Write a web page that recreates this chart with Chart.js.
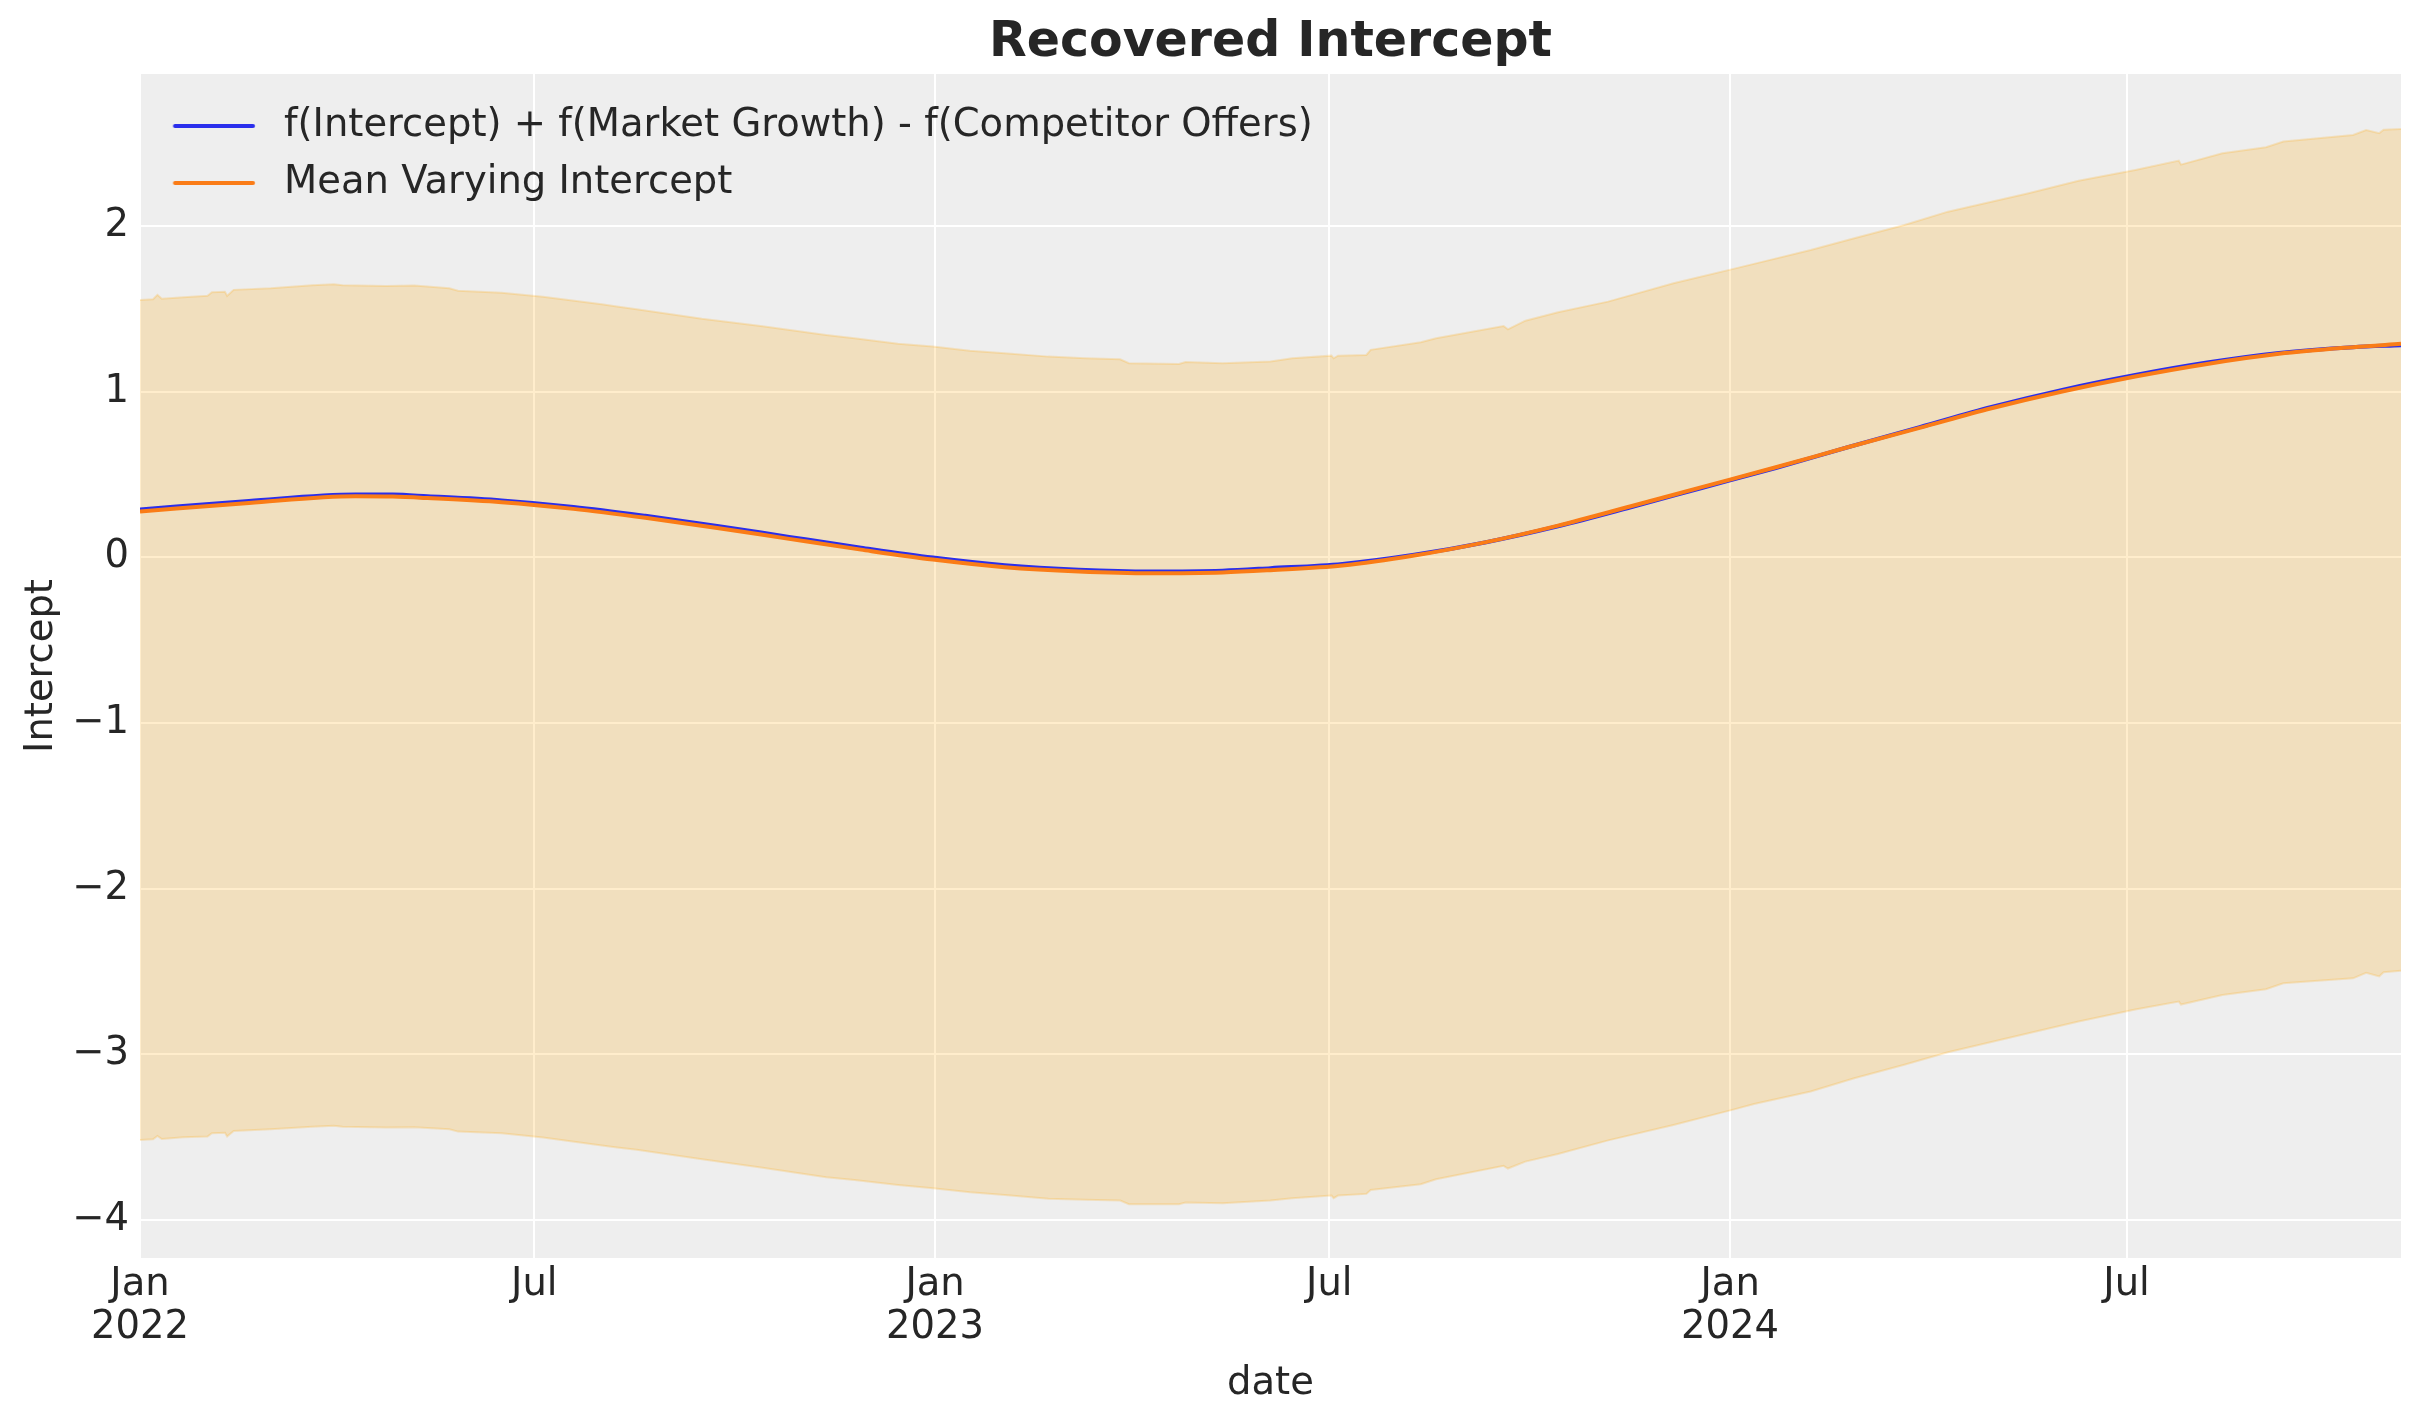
<!DOCTYPE html>
<html>
<head>
<meta charset="utf-8">
<script src="https://cdn.jsdelivr.net/npm/chart.js@4/dist/chart.umd.min.js"></script>
<style>
  html, body { margin: 0; padding: 0; background: #ffffff; }
  canvas { display: block; }
</style>
</head>
<body>
<canvas id="c" width="2423" height="1423"></canvas>
<script>
// ---------- data ----------
const bandDates = [
  '2022-01-01','2022-01-07','2022-01-09','2022-01-11','2022-01-21','2022-02-01','2022-02-03','2022-02-09','2022-02-10','2022-02-13',
  '2022-03-02','2022-03-21','2022-03-31','2022-04-04','2022-04-24','2022-05-07','2022-05-23','2022-05-27','2022-06-16','2022-07-05',
  '2022-08-01','2022-08-08','2022-08-17','2022-09-16','2022-10-13','2022-11-12','2022-11-25','2022-12-15','2022-12-31','2023-01-17',
  '2023-02-02','2023-02-22','2023-03-11','2023-03-27','2023-03-31','2023-04-23','2023-04-26','2023-05-13','2023-06-04','2023-06-14',
  '2023-07-02','2023-07-03','2023-07-05','2023-07-18','2023-07-20','2023-08-12','2023-08-19','2023-09-19','2023-09-21','2023-09-29',
  '2023-10-14','2023-11-06','2023-12-06','2024-01-02','2024-01-12','2024-02-07','2024-02-27','2024-03-21','2024-04-10','2024-05-17',
  '2024-06-09','2024-07-05','2024-07-25','2024-07-26','2024-08-14','2024-09-03','2024-09-11','2024-10-13','2024-10-19','2024-10-25',
  '2024-10-27','2024-11-04'
];
const bandUpper = [
  1.553, 1.557, 1.584, 1.560, 1.570, 1.578, 1.600, 1.602, 1.578, 1.614,
  1.624, 1.642, 1.648, 1.642, 1.638, 1.640, 1.624, 1.609, 1.597, 1.573,
  1.527, 1.513, 1.497, 1.439, 1.396, 1.342, 1.322, 1.288, 1.272, 1.247,
  1.232, 1.211, 1.201, 1.195, 1.171, 1.167, 1.179, 1.171, 1.181, 1.201,
  1.217, 1.201, 1.217, 1.221, 1.252, 1.298, 1.322, 1.396, 1.376, 1.428,
  1.479, 1.543, 1.654, 1.739, 1.771, 1.855, 1.926, 2.006, 2.086, 2.197,
  2.273, 2.338, 2.394, 2.370, 2.439, 2.475, 2.509, 2.549, 2.579, 2.560,
  2.580, 2.585
];
const bandLower = [
  -3.517, -3.513, -3.493, -3.512, -3.501, -3.497, -3.477, -3.474, -3.497, -3.463,
  -3.453, -3.437, -3.431, -3.437, -3.443, -3.441, -3.453, -3.467, -3.477, -3.503,
  -3.551, -3.563, -3.577, -3.634, -3.684, -3.742, -3.759, -3.789, -3.809, -3.833,
  -3.849, -3.873, -3.879, -3.883, -3.905, -3.905, -3.895, -3.899, -3.883, -3.869,
  -3.853, -3.869, -3.853, -3.843, -3.819, -3.785, -3.755, -3.674, -3.690, -3.648,
  -3.602, -3.520, -3.427, -3.336, -3.300, -3.225, -3.145, -3.064, -2.988, -2.873,
  -2.803, -2.730, -2.682, -2.700, -2.642, -2.608, -2.572, -2.542, -2.508, -2.530,
  -2.505, -2.496
];
const lineDates = [
  '2022-01-01','2022-02-20','2022-04-10','2022-04-27','2022-05-13','2022-06-16','2022-07-19','2022-08-21','2022-09-23','2022-10-26',
  '2022-11-28','2022-12-31','2023-02-02','2023-03-08','2023-04-10','2023-05-13','2023-06-04','2023-07-07','2023-08-09','2023-09-11',
  '2023-10-14','2023-11-16','2023-12-19','2024-01-22','2024-02-24','2024-03-28','2024-04-30','2024-06-02','2024-07-05','2024-08-07',
  '2024-09-09','2024-10-13','2024-11-04'
];
const trueIntercept = [
  0.288, 0.340, 0.379, 0.378, 0.368, 0.343, 0.304, 0.250, 0.189, 0.123,
  0.058, -0.002, -0.048, -0.075, -0.086, -0.081, -0.066, -0.040, 0.015, 0.091,
  0.187, 0.300, 0.418, 0.539, 0.664, 0.785, 0.907, 1.012, 1.100, 1.175,
  1.233, 1.268, 1.280
];
const meanIntercept = [
  0.276, 0.328, 0.368, 0.366, 0.357, 0.332, 0.292, 0.238, 0.177, 0.111,
  0.046, -0.014, -0.060, -0.086, -0.097, -0.092, -0.078, -0.050, 0.010, 0.091,
  0.191, 0.306, 0.423, 0.543, 0.664, 0.781, 0.899, 1.002, 1.091, 1.167,
  1.228, 1.268, 1.288
];
const seriesNames = ['f(Intercept) + f(Market Growth) - f(Competitor Offers)', 'Mean Varying Intercept'];
const xTickDates = ['2022-01-01','2022-07-01','2023-01-01','2023-07-01','2024-01-01','2024-07-01'];
const xTickLabels = [['Jan','2022'], 'Jul', ['Jan','2023'], 'Jul', ['Jan','2024'], 'Jul'];
const yTickValues = [-4, -3, -2, -1, 0, 1, 2];
const titleText = 'Recovered Intercept';
const xAxisTitle = 'date';
const yAxisTitle = 'Intercept';

// ---------- helpers ----------
const DAY0 = Date.UTC(2022, 0, 1);
function dayOf(s) {
  const p = s.split('-').map(Number);
  return (Date.UTC(p[0], p[1] - 1, p[2]) - DAY0) / 86400000;
}
function pts(dates, vals) { return dates.map((d, i) => ({ x: dayOf(d), y: vals[i] })); }

const FONT = 'DejaVu Sans';
const FS = 38.5;
const TXT = '#262626';
const BLUE = '#2a2eec';
const ORANGE = '#fa7c17';
const BAND = 'rgba(255,165,0,0.2)';

function legendLine(color) {
  const c = document.createElement('canvas');
  c.width = 100; c.height = 10;
  const g = c.getContext('2d');
  g.strokeStyle = color; g.lineWidth = 4; g.lineCap = 'round';
  g.beginPath(); g.moveTo(10.25, 5); g.lineTo(88.25, 5); g.stroke();
  return c;
}
const legendImgs = { 2: legendLine(BLUE), 3: legendLine(ORANGE) };

const tickMap = {};
xTickDates.forEach((d, i) => { tickMap[dayOf(d)] = xTickLabels[i]; });

const bgPlugin = {
  id: 'bg',
  beforeDraw(chart) {
    const { ctx, chartArea: a } = chart;
    ctx.save();
    ctx.fillStyle = '#ffffff';
    ctx.fillRect(0, 0, chart.width, chart.height);
    ctx.fillStyle = '#eeeeee';
    ctx.fillRect(a.left, a.top, a.right - a.left, a.bottom - a.top);
    ctx.restore();
  }
};
const legendPos = {
  id: 'legendPos',
  afterLayout(chart) {
    if (chart.legend) {
      chart.legend.left = chart.chartArea.left + 6.25;
      chart.legend.top = chart.chartArea.top + 14.25;
    }
  }
};

new Chart(document.getElementById('c'), {
  type: 'line',
  data: {
    datasets: [
      { label: 'hdi_upper', data: pts(bandDates, bandUpper), borderColor: BAND, backgroundColor: BAND,
        borderWidth: 2, pointRadius: 0, tension: 0, fill: '+1', order: 3 },
      { label: 'hdi_lower', data: pts(bandDates, bandLower), borderColor: BAND, backgroundColor: BAND,
        borderWidth: 2, pointRadius: 0, tension: 0, fill: false, order: 2 },
      { label: seriesNames[0], data: pts(lineDates, trueIntercept), borderColor: BLUE, backgroundColor: BLUE,
        borderWidth: 4, pointRadius: 0, cubicInterpolationMode: 'monotone', fill: false, order: 1 },
      { label: seriesNames[1], data: pts(lineDates, meanIntercept), borderColor: ORANGE, backgroundColor: ORANGE,
        borderWidth: 4, pointRadius: 0, cubicInterpolationMode: 'monotone', fill: false, order: 0 }
    ]
  },
  options: {
    responsive: false,
    animation: false,
    devicePixelRatio: 1,
    layout: { padding: { top: 0, right: 22, bottom: 0, left: 0 } },
    plugins: {
      title: {
        display: true, text: titleText, color: TXT, fullSize: false,
        font: { family: FONT, size: 49, weight: 'bold', lineHeight: 1.2 },
        padding: { top: 13.6, bottom: 1.6 }
      },
      legend: {
        position: 'chartArea', align: 'start',
        labels: {
          color: TXT, font: { family: FONT, size: FS }, padding: 18.5,
          usePointStyle: true, pointStyleWidth: 100,
          filter: (item) => item.datasetIndex >= 2,
          sort: (a, b) => a.datasetIndex - b.datasetIndex,
          generateLabels(chart) {
            const items = Chart.defaults.plugins.legend.labels.generateLabels(chart);
            items.forEach(it => { if (legendImgs[it.datasetIndex]) it.pointStyle = legendImgs[it.datasetIndex]; });
            return items;
          }
        }
      },
      tooltip: { enabled: false }
    },
    scales: {
      x: {
        type: 'linear',
        min: 0,
        max: dayOf(bandDates[bandDates.length - 1]),
        afterBuildTicks(scale) { scale.ticks = xTickDates.map(d => ({ value: dayOf(d) })); },
        afterFit(scale) { scale.height = 165; },
        grid: { color: '#ffffff', lineWidth: 2, drawTicks: false },
        border: { display: false },
        ticks: {
          autoSkip: false, maxRotation: 0, padding: 5, color: TXT,
          font: { family: FONT, size: FS, lineHeight: '43.4px' },
          callback: (v) => tickMap[v] !== undefined ? tickMap[v] : ''
        },
        title: { display: true, text: xAxisTitle, color: TXT, font: { family: FONT, size: FS }, padding: { top: 0, bottom: 16 } }
      },
      y: {
        type: 'linear',
        min: -4.23,
        max: 2.917,
        afterBuildTicks(scale) { scale.ticks = yTickValues.map(v => ({ value: v })); },
        afterFit(scale) { scale.width = 140; },
        grid: { color: '#ffffff', lineWidth: 2, drawTicks: false },
        border: { display: false },
        ticks: {
          padding: 11, color: TXT, font: { family: FONT, size: FS },
          callback: (v) => (v < 0 ? '\u2212' + Math.abs(v) : String(v))
        },
        title: { display: true, text: yAxisTitle, color: TXT, font: { family: FONT, size: FS }, padding: { top: 18.6, bottom: 0 } }
      }
    }
  },
  plugins: [bgPlugin, legendPos]
});
</script>
</body>
</html>
